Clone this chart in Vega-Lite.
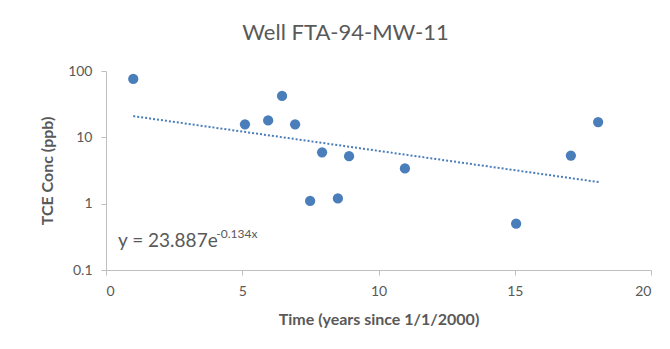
{
  "$schema": "https://vega.github.io/schema/vega-lite/v6.json",
  "autosize": "none",
  "padding": {"left": 106, "top": 71, "right": 19, "bottom": 79},
  "width": 545,
  "height": 199,
  "background": "white",
  "title": {
    "text": "Well FTA-94-MW-11",
    "font": "Lato",
    "fontSize": 22,
    "fontWeight": "normal",
    "color": "#595959",
    "offset": 19,
    "dx": -33,
    "anchor": "middle"
  },
  "config": {
    "view": {"stroke": null},
    "font": "Lato"
  },
  "datasets": {
    "pts": [
      {"t": 1.0, "c": 76},
      {"t": 5.1, "c": 15.7},
      {"t": 5.95, "c": 18},
      {"t": 6.46, "c": 42},
      {"t": 6.94, "c": 15.7},
      {"t": 7.49, "c": 1.1},
      {"t": 7.93, "c": 5.95},
      {"t": 8.51, "c": 1.2},
      {"t": 8.92, "c": 5.2},
      {"t": 10.97, "c": 3.4},
      {"t": 15.05, "c": 0.5},
      {"t": 17.06, "c": 5.3},
      {"t": 18.06, "c": 17}
    ],
    "trend": [
      {"t": 1.0, "c": 20.89},
      {"t": 18.1, "c": 2.11}
    ],
    "eq": [
      {"t": 0.44, "c": 0.225, "main": "y = 23.887e", "sup": "-0.134x", "ts": 4.05, "cs": 0.3}
    ]
  },
  "layer": [
    {
      "data": {"name": "trend"},
      "mark": {"type": "line", "color": "#4A7EBB", "strokeWidth": 2, "strokeDash": [2, 2]},
      "encoding": {
        "x": {"field": "t", "type": "quantitative",
          "scale": {"domain": [0, 20], "nice": false, "zero": false},
          "axis": {
            "title": "Time (years since 1/1/2000)",
            "values": [0, 5, 10, 15, 20],
            "grid": false,
            "domainColor": "#BFBFBF",
            "tickColor": "#BFBFBF",
            "tickSize": 5,
            "labelPadding": 9,
            "labelColor": "#595959",
            "labelFontSize": 14,
            "labelFont": "Lato",
            "titleFont": "Lato",
            "titleFontSize": 16,
            "titleFontWeight": "bold",
            "titleColor": "#595959",
            "titlePadding": 13
          }
        },
        "y": {"field": "c", "type": "quantitative",
          "scale": {"type": "log", "domain": [0.1, 100], "nice": false},
          "axis": {
            "title": "TCE Conc (ppb)",
            "values": [0.1, 1, 10, 100],
            "format": "~g",
            "grid": false,
            "domainColor": "#BFBFBF",
            "tickColor": "#BFBFBF",
            "tickSize": 5,
            "labelPadding": 9,
            "labelColor": "#595959",
            "labelFontSize": 14,
            "labelFont": "Lato",
            "titleFont": "Lato",
            "titleFontSize": 16,
            "titleFontWeight": "bold",
            "titleColor": "#595959",
            "titlePadding": 12
          }
        }
      }
    },
    {
      "data": {"name": "pts"},
      "mark": {"type": "circle", "color": "#4A7EBB", "opacity": 1, "size": 105},
      "encoding": {
        "x": {"field": "t", "type": "quantitative"},
        "y": {"field": "c", "type": "quantitative"}
      }
    },
    {
      "data": {"name": "eq"},
      "mark": {"type": "text", "align": "left", "baseline": "alphabetic", "fontSize": 19, "color": "#595959", "font": "Lato"},
      "encoding": {
        "x": {"field": "t", "type": "quantitative"},
        "y": {"field": "c", "type": "quantitative"},
        "text": {"field": "main"}
      }
    },
    {
      "data": {"name": "eq"},
      "mark": {"type": "text", "align": "left", "baseline": "alphabetic", "fontSize": 12, "color": "#595959", "font": "Lato"},
      "encoding": {
        "x": {"field": "ts", "type": "quantitative"},
        "y": {"field": "cs", "type": "quantitative"},
        "text": {"field": "sup"}
      }
    }
  ]
}
